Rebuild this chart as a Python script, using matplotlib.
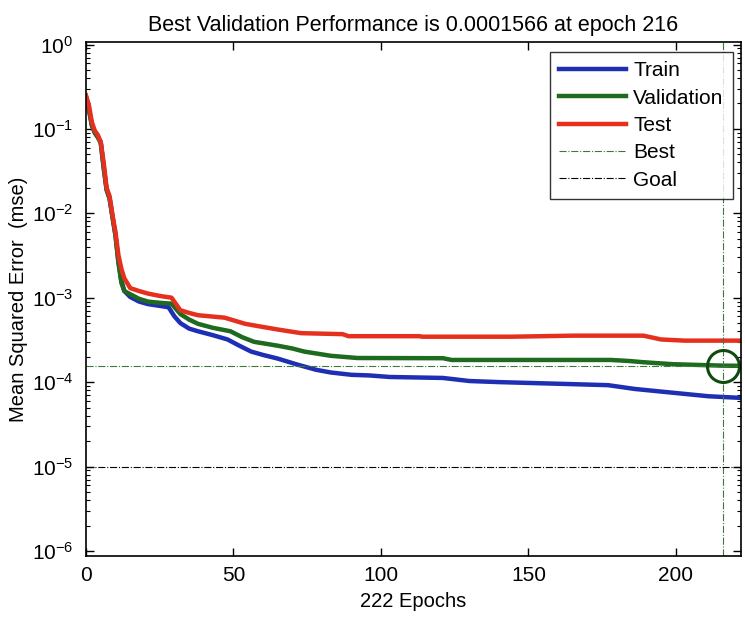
import matplotlib
matplotlib.use("Agg")
import matplotlib.pyplot as plt
from matplotlib.ticker import NullFormatter

plt.rcParams["font.family"] = ["Liberation Sans", "DejaVu Sans"]
plt.rcParams["mathtext.default"] = "regular"

# --- Training record (mse per epoch) ---
train_epochs = [0, 1, 2, 3, 4, 5, 6, 7, 8, 9, 10, 11, 12, 13, 15, 18, 21, 25, 28, 30,
                32, 35, 38, 43, 48, 52, 56, 60, 65, 72, 78, 83, 90, 96, 103, 121, 130,
                140, 163, 177, 186, 197, 211, 222]
train_mse = [0.24, 0.17, 0.11, 0.09, 0.08, 0.07, 0.035, 0.019, 0.015, 0.009, 0.0055,
             0.0027, 0.0016, 0.0012, 0.00102, 0.0009, 0.00084, 0.0008, 0.00077, 0.0006,
             0.0005, 0.00043, 0.0004, 0.00036, 0.00032, 0.00027, 0.00023, 0.00021,
             0.00019, 0.00016, 0.00014, 0.00013, 0.000122, 0.00012, 0.000115, 0.000112,
             0.000103, 0.0001, 0.000095, 0.000092, 0.000083, 0.000076, 0.000068, 0.000065]

val_epochs = [0, 1, 2, 3, 4, 5, 6, 7, 8, 9, 10, 11, 12, 13, 15, 18, 21, 25, 29, 32, 35,
              38, 43, 49, 53, 57, 65, 70, 74, 83, 92, 121, 124, 178, 184, 189, 199, 216,
              222]
val_mse = [0.24, 0.17, 0.11, 0.09, 0.08, 0.068, 0.035, 0.019, 0.015, 0.009, 0.0055,
           0.0026, 0.0015, 0.0012, 0.0011, 0.00097, 0.0009, 0.00087, 0.00085, 0.00064,
           0.00055, 0.00049, 0.00044, 0.0004, 0.00034, 0.0003, 0.00027, 0.00025, 0.00023,
           0.000205, 0.000193, 0.000192, 0.000183, 0.000183, 0.000178, 0.000172,
           0.000163, 0.0001566, 0.000156]

test_epochs = [0, 1, 2, 3, 4, 5, 6, 7, 8, 9, 10, 11, 12, 13, 15, 18, 21, 25, 29, 32, 35,
               38, 47, 54, 60, 65, 73, 87, 89, 113, 114, 144, 165, 189, 195, 203, 222]
test_mse = [0.25, 0.19, 0.12, 0.095, 0.085, 0.07, 0.04, 0.02, 0.016, 0.0095, 0.006,
            0.0032, 0.0022, 0.0017, 0.0013, 0.0012, 0.00112, 0.00105, 0.001, 0.00071,
            0.00066, 0.00062, 0.00058, 0.00049, 0.00045, 0.00042, 0.00038, 0.00037,
            0.00035, 0.00035, 0.000345, 0.000345, 0.000355, 0.000355, 0.00032, 0.00031,
            0.00031]

best_epoch = 216
best_perf = 0.0001566
goal = 1e-5
n_epochs = 222

# --- Plot ---
fig = plt.figure(figsize=(7.45, 6.18), dpi=100)
ax = fig.add_axes([0.1154, 0.1003, 0.879, 0.8317])

ax.semilogy(train_epochs, train_mse, color="#1f2fb4", lw=3.2, label="Train")
ax.semilogy(val_epochs, val_mse, color="#1e6a1e", lw=3.2, label="Validation")
ax.semilogy(test_epochs, test_mse, color="#e5301e", lw=3.2, label="Test")
ax.axvline(best_epoch, color="#3a7a3a", lw=0.8, ls="-.", label="Best")
ax.axhline(best_perf, color="#3a7a3a", lw=0.8, ls="-.")
ax.axhline(goal, color="black", lw=0.8, ls="-.", label="Goal")
ax.plot(best_epoch, best_perf, "o", ms=23, mfc="none", mec="#0f4a0f", mew=2.2)

ax.set_xlim(0, n_epochs)
ax.set_ylim(8.7e-7, 1.07)
ax.set_xticks([0, 50, 100, 150, 200])

# decades only, with inward minor ticks in between
decades = range(-6, 1)
ax.set_yticks([10.0 ** d for d in decades])
ax.set_yticks([k * 10.0 ** d for d in range(-6, 0) for k in range(2, 10)], minor=True)
ax.yaxis.set_minor_formatter(NullFormatter())

ax.tick_params(which="both", direction="in", top=True, right=True, labelsize=15)
ax.tick_params(axis="x", pad=7)
ax.tick_params(axis="y", pad=9)
ax.tick_params(which="major", length=6, width=1)
ax.tick_params(which="minor", length=3, width=0.8)
for s in ax.spines.values():
    s.set_linewidth(1.2)

ax.set_title("Best Validation Performance is 0.0001566 at epoch 216", fontsize=15.5, pad=8)
ax.set_xlabel("222 Epochs", fontsize=14.5, labelpad=5)
ax.set_ylabel("Mean Squared Error  (mse)", fontsize=14.5, labelpad=3)

leg = ax.legend(loc="upper right", bbox_to_anchor=(0.988, 0.9805), borderaxespad=0,
                fontsize=15, frameon=True, fancybox=False, edgecolor="black",
                handlelength=3.2, labelspacing=0.4, borderpad=0.45, handletextpad=0.35)
leg.get_frame().set_linewidth(1.0)

fig.savefig("out.png", dpi=100)
